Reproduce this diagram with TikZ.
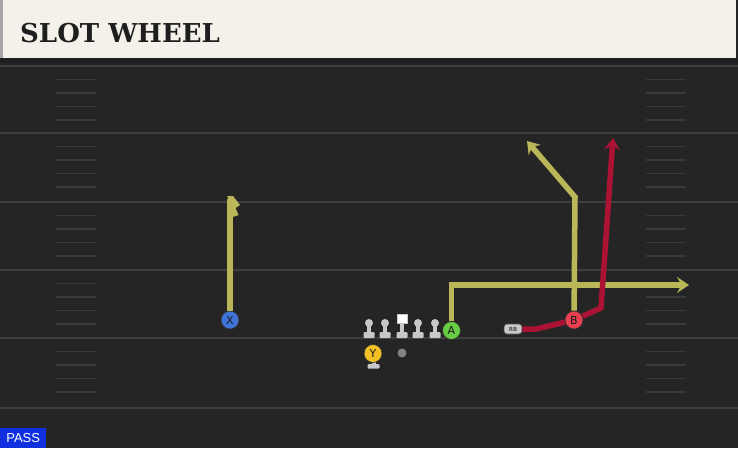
\documentclass[tikz,border=0pt]{standalone}
\usepackage{fontspec}
\usepackage{tikz}
\usetikzlibrary{arrows.meta}
\setsansfont{DejaVu Sans}
\newfontfamily\titlefont{DejaVu Serif}
\newfontfamily\tagfont{Liberation Sans}
\definecolor{fieldbg}{RGB}{37, 37, 37}
\definecolor{fieldline}{RGB}{62, 62, 62}
\definecolor{hashline}{RGB}{58, 58, 58}
\definecolor{headerbg}{RGB}{244, 241, 234}
\definecolor{titleblack}{RGB}{30, 30, 30}
\definecolor{routeyellow}{RGB}{186, 183, 88}
\definecolor{routered}{RGB}{172, 18, 52}
\definecolor{xblue}{RGB}{62, 116, 216}
\definecolor{agreen}{RGB}{104, 204, 68}
\definecolor{bred}{RGB}{232, 64, 80}
\definecolor{yyellow}{RGB}{242, 192, 37}
\definecolor{linegray}{RGB}{200, 200, 200}
\definecolor{ballgray}{RGB}{130, 130, 130}
\definecolor{passblue}{RGB}{16, 48, 224}
\tikzstyle{route}=[line width=5.5pt, color=routeyellow, >={Stealth[length=12pt,width=16pt,inset=4.5pt]}]
\tikzstyle{player}=[shape=circle, draw=black!80, line width=0.7pt, minimum size=18pt, inner sep=0pt, font=\sffamily\fontsize{11}{11}\selectfont, text=black!90]
\tikzstyle{lineman}=[shape=circle, fill=linegray, minimum size=8pt, inner sep=0pt]

\begin{document}
\begin{tikzpicture}[x=1pt, y=-1pt]
    \useasboundingbox (0,0) rectangle (738,448);
    % Field
    \fill[fieldbg] (0,0) rectangle (738,448);
    \foreach \y in {66,133,202,270,338,408}
        \draw[fieldline, line width=2pt] (0,\y) -- (738,\y);
    \foreach \y in {66,133,202,270,338}
        \foreach \d in {13.5,27,40.5,54} {
            \draw[hashline, line width=1.2pt] (56,\y+\d) -- (96,\y+\d);
            \draw[hashline, line width=1.2pt] (646,\y+\d) -- (686,\y+\d);
        }

    % Header
    \fill[headerbg] (0,0) rectangle (736,58);
    \fill[black!35] (0,0) rectangle (3,58);
    \fill[black!88] (0,58) rectangle (738,63);
    \node[anchor=base west, font=\titlefont\bfseries\fontsize{26}{26}\selectfont, text=titleblack, inner sep=0pt] (title) at (20,42) {SLOT WHEEL};

    % Offensive line
    \foreach \n/\x in {lt/369,lg/385,rg/418,rt/435} {
        \fill[linegray] (\x-2,324) rectangle (\x+2,334);
        \fill[linegray, rounded corners=1pt] (\x-5.5,332) rectangle (\x+5.5,338);
        \node[lineman] (\n) at (\x,323) {};
    }
    \fill[linegray] (400,322) rectangle (404,334);
    \fill[linegray, rounded corners=1pt] (396.5,332) rectangle (407.5,338);
    \node[shape=rectangle, fill=white, draw=linegray, line width=0.6pt, minimum width=10pt, minimum height=9pt, inner sep=0pt] (ctr) at (402,318.5) {};
    \node[shape=circle, fill=ballgray, minimum size=9pt, inner sep=0pt] (ball) at (402,353) {};

    % Skill players
    \fill[linegray] (371.5,360) rectangle (375.5,365);
    \fill[linegray, rounded corners=1pt] (367.5,364) rectangle (379.5,368.5);
    \node[player, fill=yyellow] (Y) at (373,353.5) {Y};
    \node[player, fill=xblue] (X) at (230,320) {X};
    \node[player, fill=agreen] (A) at (451.5,330.5) {A};
    \node[player, fill=bred] (B) at (574,320) {B};
    \node[shape=rectangle, rounded corners=3pt, fill=linegray, draw=black!70, line width=0.6pt, minimum width=18pt, minimum height=10pt, inner sep=0pt, font=\sffamily\bfseries\fontsize{5.5}{6}\selectfont, text=black!70] (RB) at (513,329) {RB};

    % Route ends
    \coordinate (xtop) at (230,199);
    \coordinate (aend) at (689,285);
    \coordinate (bbreak) at (575,197);
    \coordinate (bend) at (527,141);
    \coordinate (rbflat) at (536,329);
    \coordinate (rbturn) at (601,308);
    \coordinate (rbend) at (613,138);

    % Routes
    \draw[route] (X) -- (xtop);
    \fill[routeyellow] (227.3,196) -- (233,196) -- (240,205) -- (235.5,208) -- (238.5,215) -- (232.7,217) -- cycle;
    \draw[route, ->] (A) -- (A |- aend) -- (aend);
    \draw[route, ->] (B) -- (bbreak) -- (bend);
    \draw[route, color=routered] (RB) -- (rbflat) -- (B);
    \draw[route, color=routered, ->] (B) -- (rbturn) -- (rbend);

    % Play type
    \node[anchor=south west, fill=passblue, text=white, font=\tagfont\fontsize{13}{13}\selectfont, minimum width=46pt, minimum height=20pt, inner sep=0pt] (pass) at (0,448) {PASS};
\end{tikzpicture}
\end{document}
